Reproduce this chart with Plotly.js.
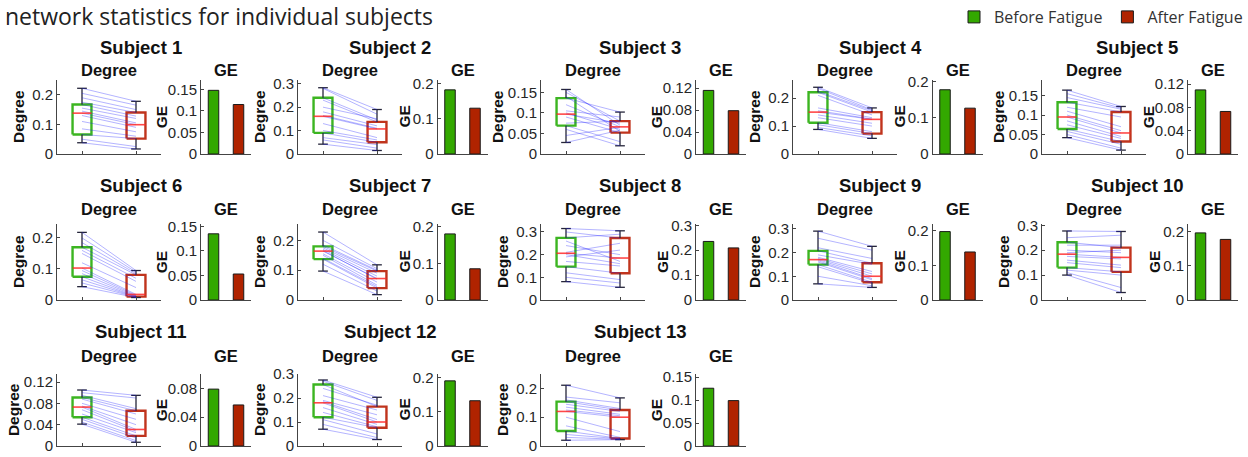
<!DOCTYPE html>
<html><head><meta charset="utf-8">
<script src="https://cdn.plot.ly/plotly-3.0.1.min.js"></script>
<style>html,body{margin:0;padding:0;background:#fff;}#chart{width:1248px;height:457px;}</style>
</head><body><div id="chart"></div>
<script>
// ---------------- DATA ----------------
const subjectNames = ['Subject 1','Subject 2','Subject 3','Subject 4','Subject 5','Subject 6','Subject 7',
  'Subject 8','Subject 9','Subject 10','Subject 11','Subject 12','Subject 13'];
const groupNames = ['Before Fatigue','After Fatigue'];

// paired degree values (before -> after)
const degBefore = [
  [0.222,0.205,0.19,0.175,0.167,0.155,0.145,0.138,0.13,0.11,0.085,0.066,0.05,0.038],
  [0.283,0.28,0.24,0.23,0.2,0.18,0.165,0.161,0.13,0.1,0.09,0.07,0.06,0.042],
  [0.157,0.15,0.14,0.136,0.12,0.105,0.1,0.097,0.09,0.075,0.069,0.06,0.045,0.028],
  [0.239,0.235,0.225,0.221,0.21,0.165,0.155,0.15,0.14,0.13,0.112,0.105,0.095,0.088],
  [0.164,0.155,0.145,0.133,0.12,0.11,0.1,0.095,0.085,0.075,0.064,0.058,0.05,0.042],
  [0.218,0.2,0.185,0.17,0.16,0.15,0.12,0.103,0.095,0.085,0.075,0.065,0.055,0.043],
  [0.228,0.2,0.185,0.18,0.175,0.17,0.166,0.164,0.155,0.15,0.14,0.137,0.12,0.097],
  [0.315,0.3,0.274,0.26,0.24,0.21,0.206,0.2,0.19,0.17,0.147,0.12,0.1,0.081],
  [0.29,0.26,0.22,0.207,0.19,0.18,0.175,0.17,0.165,0.16,0.149,0.14,0.1,0.068],
  [0.277,0.25,0.232,0.22,0.2,0.19,0.184,0.175,0.16,0.15,0.13,0.12,0.11,0.1],
  [0.105,0.1,0.095,0.091,0.088,0.08,0.075,0.073,0.068,0.06,0.054,0.05,0.045,0.041],
  [0.275,0.27,0.256,0.24,0.21,0.19,0.185,0.18,0.16,0.14,0.12,0.11,0.09,0.07],
  [0.211,0.17,0.16,0.154,0.145,0.135,0.125,0.12,0.1,0.07,0.052,0.04,0.03,0.02]
];
const degAfter = [
  [0.178,0.165,0.15,0.14,0.128,0.12,0.105,0.099,0.09,0.075,0.06,0.052,0.025,0.017],
  [0.19,0.17,0.145,0.137,0.15,0.12,0.11,0.107,0.07,0.06,0.05,0.04,0.025,0.015],
  [0.07,0.08,0.055,0.102,0.066,0.09,0.06,0.075,0.052,0.08,0.03,0.02,0.065,0.058],
  [0.165,0.158,0.155,0.15,0.14,0.13,0.125,0.124,0.11,0.1,0.08,0.073,0.065,0.056],
  [0.122,0.118,0.115,0.108,0.095,0.07,0.06,0.054,0.045,0.04,0.032,0.025,0.015,0.01],
  [0.095,0.09,0.085,0.081,0.07,0.06,0.04,0.018,0.015,0.013,0.011,0.01,0.009,0.008],
  [0.118,0.105,0.1,0.097,0.09,0.08,0.07,0.072,0.06,0.05,0.045,0.04,0.03,0.018],
  [0.305,0.273,0.29,0.17,0.2,0.25,0.185,0.16,0.22,0.15,0.118,0.09,0.075,0.056],
  [0.226,0.21,0.175,0.155,0.15,0.12,0.11,0.1,0.09,0.085,0.075,0.07,0.06,0.053],
  [0.275,0.26,0.21,0.22,0.19,0.2,0.171,0.165,0.14,0.13,0.113,0.1,0.05,0.03],
  [0.095,0.09,0.07,0.066,0.06,0.05,0.04,0.031,0.028,0.025,0.019,0.015,0.01,0.007],
  [0.203,0.19,0.164,0.17,0.15,0.13,0.11,0.1,0.09,0.08,0.076,0.05,0.035,0.027],
  [0.167,0.15,0.13,0.125,0.12,0.11,0.105,0.1,0.05,0.03,0.026,0.025,0.023,0.022]
];

// box statistics
const beforeLo  = [0.038,0.042,0.028,0.088,0.042,0.043,0.097,0.081,0.068,0.10,0.041,0.07,0.02];
const beforeQ1  = [0.066,0.09,0.069,0.112,0.064,0.075,0.137,0.147,0.149,0.13,0.054,0.12,0.052];
const beforeMed = [0.138,0.161,0.097,0.15,0.095,0.103,0.164,0.206,0.17,0.184,0.073,0.18,0.12];
const beforeQ3  = [0.167,0.24,0.136,0.221,0.133,0.17,0.18,0.274,0.207,0.232,0.091,0.256,0.154];
const beforeHi  = [0.222,0.283,0.157,0.239,0.164,0.218,0.228,0.315,0.29,0.277,0.105,0.275,0.211];
const afterLo   = [0.017,0.015,0.02,0.056,0.01,0.008,0.018,0.056,0.053,0.03,0.007,0.027,0.022];
const afterQ1   = [0.052,0.05,0.052,0.073,0.032,0.011,0.04,0.118,0.075,0.113,0.019,0.076,0.026];
const afterMed  = [0.099,0.107,0.066,0.124,0.054,0.018,0.072,0.185,0.10,0.171,0.031,0.10,0.10];
const afterQ3   = [0.14,0.137,0.08,0.15,0.108,0.081,0.097,0.273,0.155,0.21,0.066,0.164,0.125];
const afterHi   = [0.178,0.19,0.102,0.165,0.122,0.095,0.118,0.305,0.226,0.275,0.095,0.203,0.167];

// global efficiency bars
const geBefore = [0.148,0.182,0.116,0.178,0.11,0.135,0.18,0.235,0.198,0.196,0.079,0.19,0.126];
const geAfter  = [0.115,0.13,0.079,0.127,0.073,0.053,0.085,0.209,0.139,0.177,0.057,0.132,0.099];

// axis settings
const degYMax  = [0.25,0.316,0.18,0.265,0.19,0.245,0.255,0.335,0.32,0.305,0.135,0.3,0.25];
const degDtick = [0.1,0.1,0.05,0.1,0.05,0.1,0.1,0.1,0.1,0.1,0.04,0.1,0.1];
const geYMax   = [0.172,0.21,0.135,0.205,0.127,0.155,0.207,0.305,0.22,0.222,0.1,0.21,0.157];
const geDtick  = [0.05,0.1,0.04,0.1,0.04,0.05,0.1,0.1,0.1,0.1,0.04,0.1,0.05];

// ---------------- LAYOUT GEOMETRY ----------------
const W = 1248, H = 457;
const rowTop = [80, 224, 374], rowBot = [154, 300, 446];
const degC = [82, 323, 566, 818, 1067];
const geC  = [213.5, 450, 708.5, 945, 1200.5];
const titleX = [141, 390, 640, 880, 1137];
const titleY = [47, 185, 331];
const subY = [70, 209, 356];

const C = {
  boxG: '#3cb521', boxR: '#c0341d',
  barG: '#33a800', barR: '#b02300',
  whisk: '#25253a', med: 'rgba(255,40,40,0.85)', pair: 'rgba(20,20,255,0.4)',
  axis: '#444', tick: '#262626'
};
const FONT = 'Liberation Sans, Arial, sans-serif';
const TICK = 15;
const BH = 0.175, CAP = 0.09;

const traces = [];
const annotations = [];
const layout = {
  width: W, height: H, autosize: false,
  margin: {l: 0, r: 0, t: 0, b: 0},
  paper_bgcolor: '#fff', plot_bgcolor: 'rgba(0,0,0,0)',
  showlegend: true,
  legend: {orientation: 'h', x: 1, xanchor: 'right', y: 1, yanchor: 'top',
    font: {family: 'Open Sans, sans-serif', size: 16, color: '#333'},
    bgcolor: 'rgba(0,0,0,0)', itemwidth: 30, tracegroupgap: 0},
  title: {text: 'network statistics for individual subjects', x: 0.004, xanchor: 'left',
    y: 1 - 17 / H, yanchor: 'middle', yref: 'container', xref: 'paper',
    font: {family: 'Open Sans, sans-serif', size: 23, color: '#222'}},
  annotations: annotations
};

function boxTraces(xc, lo, q1, med, q3, hi, color, xa, ya) {
  traces.push({type: 'scatter', mode: 'lines', xaxis: xa, yaxis: ya, showlegend: false, hoverinfo: 'skip',
    x: [xc - BH, xc + BH, xc + BH, xc - BH, xc - BH], y: [q1, q1, q3, q3, q1],
    line: {color: color, width: 2.4}});
  traces.push({type: 'scatter', mode: 'lines', xaxis: xa, yaxis: ya, showlegend: false, hoverinfo: 'skip',
    x: [xc, xc, null, xc, xc, null, xc - CAP, xc + CAP, null, xc - CAP, xc + CAP],
    y: [q3, hi, null, lo, q1, null, hi, hi, null, lo, lo],
    line: {color: C.whisk, width: 1.3}});
}
function medTrace(xc, med, xa, ya) {
  traces.push({type: 'scatter', mode: 'lines', xaxis: xa, yaxis: ya, showlegend: false, hoverinfo: 'skip',
    x: [xc - BH, xc + BH], y: [med, med], line: {color: C.med, width: 1.6}});
}
function tickW(ymax, dt) {
  // widest tick label width (px) at the tick font
  const dec = Math.max(0, Math.round(-Math.log10(dt) + 0.49));
  let best = 0;
  for (let v = 0; v <= ymax + 1e-9; v += dt) {
    const s = (+v.toFixed(dec + 1)).toString();
    let w = 0; for (const ch of s) w += (ch === '.' ? 0.278 : 0.556) * TICK;
    best = Math.max(best, w);
  }
  return best;
}

for (let s = 0; s < subjectNames.length; s++) {
  const r = Math.floor(s / 5), c = s % 5;
  const nD = 2 * s + 1, nG = 2 * s + 2;
  const xD = 'x' + (nD === 1 ? '' : nD), yD = 'y' + (nD === 1 ? '' : nD);
  const xG = 'x' + nG, yG = 'y' + nG;
  const ydom = [1 - rowBot[r] / H, 1 - rowTop[r] / H];
  const axCommon = {showgrid: false, zeroline: false, showline: true, linecolor: C.axis, linewidth: 1,
    ticks: 'inside', ticklen: 3, tickcolor: C.axis, fixedrange: true, ticklabeloverflow: 'allow',
    tickfont: {family: FONT, size: TICK, color: C.tick}};
  const dL = degC[c] - 25, dR = degC[c] + 79;
  layout['xaxis' + (nD === 1 ? '' : nD)] = Object.assign({}, axCommon, {
    domain: [dL / W, dR / W], range: [1 - 25 / 54, 2 + 25 / 54], anchor: yD,
    tickvals: [1, 2], showticklabels: false});
  layout['yaxis' + (nD === 1 ? '' : nD)] = Object.assign({}, axCommon, {
    domain: ydom, range: [0, degYMax[s]], tick0: 0, dtick: degDtick[s], anchor: xD});
  const gL = geC[c] - 12.5, gR = geC[c] + 37.5;
  layout['xaxis' + nG] = Object.assign({}, axCommon, {
    domain: [gL / W, gR / W], range: [0.5, 2.5], anchor: yG, ticks: '', showticklabels: false});
  layout['yaxis' + nG] = Object.assign({}, axCommon, {
    domain: ydom, range: [0, geYMax[s]], tick0: 0, dtick: geDtick[s], anchor: xG});

  // boxes
  boxTraces(1, beforeLo[s], beforeQ1[s], beforeMed[s], beforeQ3[s], beforeHi[s], C.boxG, xD, yD);
  boxTraces(2, afterLo[s], afterQ1[s], afterMed[s], afterQ3[s], afterHi[s], C.boxR, xD, yD);
  // paired lines
  const px = [], py = [];
  for (let i = 0; i < degBefore[s].length; i++) {
    px.push(1, 2, null); py.push(degBefore[s][i], degAfter[s][i], null);
  }
  traces.push({type: 'scatter', mode: 'lines', xaxis: xD, yaxis: yD, showlegend: false, hoverinfo: 'skip',
    x: px, y: py, line: {color: C.pair, width: 0.8}});
  medTrace(1, beforeMed[s], xD, yD);
  medTrace(2, afterMed[s], xD, yD);

  // GE bars
  traces.push({type: 'bar', xaxis: xG, yaxis: yG, x: [1], y: [geBefore[s]], width: 0.42,
    name: groupNames[0], legendgroup: 'b', showlegend: s === 0,
    marker: {color: C.barG, line: {color: '#1a1a1a', width: 1}}});
  traces.push({type: 'bar', xaxis: xG, yaxis: yG, x: [2], y: [geAfter[s]], width: 0.42,
    name: groupNames[1], legendgroup: 'a', showlegend: s === 0,
    marker: {color: C.barR, line: {color: '#1a1a1a', width: 1}}});

  // titles
  annotations.push({text: '<b>' + subjectNames[s] + '</b>', xref: 'paper', yref: 'paper',
    x: titleX[c] / W, y: 1 - titleY[r] / H, xanchor: 'center', yanchor: 'middle', showarrow: false,
    font: {family: FONT, size: 18.5, color: '#111'}});
  annotations.push({text: '<b>Degree</b>', xref: 'paper', yref: 'paper',
    x: (dL + 52) / W, y: 1 - subY[r] / H, xanchor: 'center', yanchor: 'middle', showarrow: false,
    font: {family: FONT, size: 16.5, color: '#111'}});
  annotations.push({text: '<b>GE</b>', xref: 'paper', yref: 'paper',
    x: (gL + 25) / W, y: 1 - subY[r] / H, xanchor: 'center', yanchor: 'middle', showarrow: false,
    font: {family: FONT, size: 16.5, color: '#111'}});
  const ymid = 1 - (rowTop[r] + rowBot[r]) / 2 / H;
  const dOff = 39 + Math.max(0, tickW(degYMax[s], degDtick[s]) - 21) * 0.6;
  const gOff = 34 + Math.max(0, tickW(geYMax[s], geDtick[s]) - 21) * 0.7;
  annotations.push({text: '<b>Degree</b>', xref: 'paper', yref: 'paper', textangle: -90,
    x: (dL - dOff) / W, y: ymid, xanchor: 'center', yanchor: 'middle', showarrow: false,
    font: {family: FONT, size: 15.5, color: '#111'}});
  annotations.push({text: '<b>GE</b>', xref: 'paper', yref: 'paper', textangle: -90,
    x: (gL - gOff) / W, y: ymid, xanchor: 'center', yanchor: 'middle', showarrow: false,
    font: {family: FONT, size: 15.5, color: '#111'}});
}

Plotly.newPlot('chart', traces, layout, {displayModeBar: false, staticPlot: true});
</script></body></html>
